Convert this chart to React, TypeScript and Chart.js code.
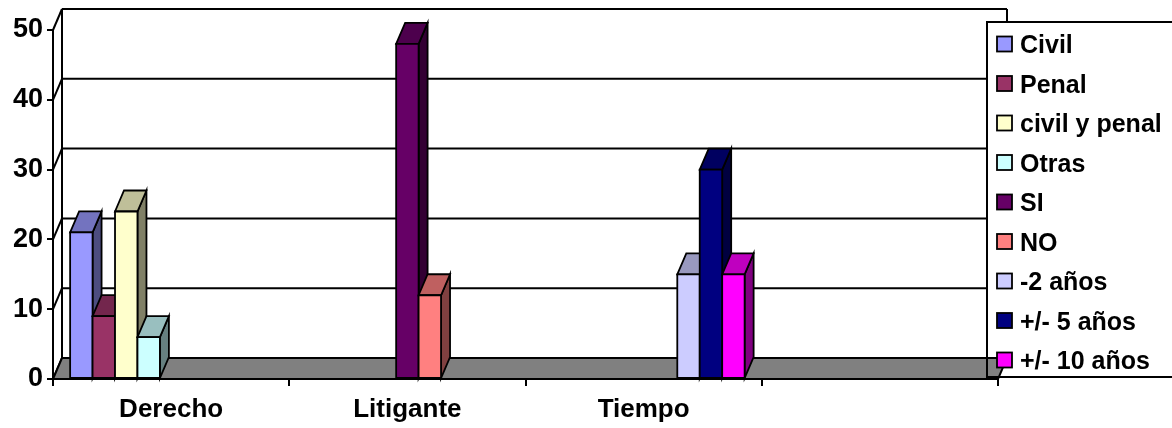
import { useEffect, useRef } from 'react';
import { Chart, registerables } from 'chart.js';

Chart.register(...registerables);

// Categories on the horizontal axis (the last one is an empty slot)
const categories = ['Derecho', 'Litigante', 'Tiempo', ''];

// Series names, in legend order
const seriesNames = [
  'Civil',
  'Penal',
  'civil y penal',
  'Otras',
  'SI',
  'NO',
  '-2 años',
  '+/- 5 años',
  '+/- 10 años',
];

// Values per series, one entry per category
const civil = [21, null, null, null];
const penal = [9, null, null, null];
const civilYPenal = [24, null, null, null];
const otras = [6, null, null, null];
const si = [null, 48, null, null];
const no = [null, 12, null, null];
const menosDos = [null, null, 15, null];
const masMenosCinco = [null, null, 30, null];
const masMenosDiez = [null, null, 15, null];

const seriesValues = [civil, penal, civilYPenal, otras, si, no, menosDos, masMenosCinco, masMenosDiez];

// Value axis ticks
const yTicks = [0, 10, 20, 30, 40, 50];

const seriesColors = [
  '#9999FF',
  '#993366',
  '#FFFFCC',
  '#CCFFFF',
  '#660066',
  '#FF8080',
  '#CCCCFF',
  '#000080',
  '#FF00FF',
];

const FONT_FAMILY = "'Liberation Sans', Arial, sans-serif";
const DEPTH_X = 9;
const DEPTH_Y = 21;

function shade(hex: string, k: number): string {
  const n = parseInt(hex.slice(1), 16);
  const r = Math.round(((n >> 16) & 255) * k);
  const g = Math.round(((n >> 8) & 255) * k);
  const b = Math.round((n & 255) * k);
  return `rgb(${r},${g},${b})`;
}

function drawFloor(chart: any) {
  const { ctx, chartArea } = chart;
  const { left, right, bottom } = chartArea;
  ctx.beginPath();
  ctx.moveTo(left, bottom);
  ctx.lineTo(right, bottom);
  ctx.lineTo(right + DEPTH_X, bottom - DEPTH_Y);
  ctx.lineTo(left + DEPTH_X, bottom - DEPTH_Y);
  ctx.closePath();
  ctx.fillStyle = '#808080';
  ctx.fill();
  ctx.strokeStyle = '#000';
  ctx.lineWidth = 2;
  ctx.stroke();
}

// Back wall, left wall and floor of the pseudo-3D box
const wallsPlugin = {
  id: 'walls3d',
  beforeDatasetsDraw(chart: any) {
    const { ctx, chartArea } = chart;
    const yScale = chart.scales.y;
    const left = chartArea.left;
    const right = chartArea.right;
    const bottom = chartArea.bottom;
    ctx.save();
    ctx.strokeStyle = '#000';
    ctx.lineWidth = 2;
    ctx.lineCap = 'butt';

    const topBack = yScale.getPixelForValue(yTicks[yTicks.length - 1]) - DEPTH_Y;
    const bottomBack = bottom - DEPTH_Y;

    // back-wall gridlines and left-wall diagonals
    yTicks.forEach((v) => {
      const yf = yScale.getPixelForValue(v);
      const yb = yf - DEPTH_Y;
      if (v !== 0) {
        ctx.beginPath();
        ctx.moveTo(left + DEPTH_X, yb);
        ctx.lineTo(right + DEPTH_X, yb);
        ctx.stroke();
      }
      ctx.beginPath();
      ctx.moveTo(left, yf);
      ctx.lineTo(left + DEPTH_X, yb);
      ctx.stroke();
    });

    // back-wall vertical edges
    ctx.beginPath();
    ctx.moveTo(left + DEPTH_X, topBack);
    ctx.lineTo(left + DEPTH_X, bottomBack);
    ctx.moveTo(right + DEPTH_X, topBack);
    ctx.lineTo(right + DEPTH_X, bottomBack);
    ctx.stroke();

    drawFloor(chart);
    ctx.restore();
  },
};

// Side and top faces of each bar, redrawn left to right so nearer faces cover farther ones
const barsPlugin = {
  id: 'bars3d',
  afterDatasetsDraw(chart: any) {
    const { ctx } = chart;
    ctx.save();
    ctx.strokeStyle = '#000';
    ctx.lineWidth = 1.8;
    ctx.lineJoin = 'miter';
    chart.data.datasets.forEach((ds: any, i: number) => {
      const meta = chart.getDatasetMeta(i);
      const base = seriesColors[i];
      meta.data.forEach((el: any, j: number) => {
        if (ds.data[j] == null) return;
        const { x, y, base: yBase, width } = el.getProps(['x', 'y', 'base', 'width'], true);
        const l = x - width / 2;
        const r = x + width / 2;
        // side face
        ctx.beginPath();
        ctx.moveTo(r, y);
        ctx.lineTo(r + DEPTH_X, y - DEPTH_Y);
        ctx.lineTo(r + DEPTH_X, yBase - DEPTH_Y);
        ctx.lineTo(r, yBase);
        ctx.closePath();
        ctx.fillStyle = shade(base, 0.5);
        ctx.fill();
        ctx.stroke();
        // top face
        ctx.beginPath();
        ctx.moveTo(l, y);
        ctx.lineTo(l + DEPTH_X, y - DEPTH_Y);
        ctx.lineTo(r + DEPTH_X, y - DEPTH_Y);
        ctx.lineTo(r, y);
        ctx.closePath();
        ctx.fillStyle = shade(base, 0.75);
        ctx.fill();
        ctx.stroke();
        // front face
        el.draw(ctx);
        ctx.beginPath();
        ctx.rect(l, y, width, yBase - y);
        ctx.stroke();
      });
    });
    ctx.restore();
  },
};

// Legend box on the right
const legendPlugin = {
  id: 'legendBox',
  afterDraw(chart: any) {
    const { ctx } = chart;
    const boxLeft = 987;
    const boxTop = 22;
    const boxBottom = 377;
    const boxW = 220;
    ctx.save();
    ctx.fillStyle = '#fff';
    ctx.fillRect(boxLeft, boxTop, boxW, boxBottom - boxTop);
    // the floor's corner shows through at the bottom-left of the box
    ctx.save();
    ctx.beginPath();
    ctx.rect(boxLeft, boxTop, boxW, boxBottom - boxTop);
    ctx.clip();
    drawFloor(chart);
    ctx.restore();
    ctx.strokeStyle = '#000';
    ctx.lineWidth = 2;
    ctx.strokeRect(boxLeft, boxTop, boxW, boxBottom - boxTop);
    ctx.font = `bold 25px ${FONT_FAMILY}`;
    ctx.textBaseline = 'alphabetic';
    ctx.textAlign = 'left';
    seriesNames.forEach((name, i) => {
      const cy = 44 + i * 39.5;
      ctx.fillStyle = seriesColors[i];
      ctx.fillRect(997, cy - 7.5, 15, 15);
      ctx.lineWidth = 1.8;
      ctx.strokeStyle = '#000';
      ctx.strokeRect(997, cy - 7.5, 15, 15);
      ctx.fillStyle = '#000';
      ctx.fillText(name, 1020, cy + 9);
    });
    ctx.restore();
  },
};

export default function App() {
  const canvasRef = useRef<HTMLCanvasElement | null>(null);

  useEffect(() => {
    if (!canvasRef.current) return;
    const chart = new Chart(canvasRef.current, {
      type: 'bar',
      data: {
        labels: categories,
        datasets: seriesNames.map((name, i) => ({
          label: name,
          data: seriesValues[i],
          backgroundColor: seriesColors[i],
          borderWidth: 0,
          categoryPercentage: 0.855,
          barPercentage: 1,
        })),
      },
      options: {
        responsive: true,
        maintainAspectRatio: false,
        animation: false,
        events: [],
        layout: { padding: { top: 30, right: 174, bottom: 0, left: 0 } },
        plugins: {
          legend: { display: false },
          tooltip: { enabled: false },
        },
        scales: {
          x: {
            grid: {
              offset: true,
              drawOnChartArea: false,
              tickLength: 7,
              color: '#000',
              lineWidth: 2,
            },
            border: { color: '#000', width: 2 },
            ticks: {
              font: { family: FONT_FAMILY, size: 26, weight: 'bold' },
              color: '#000',
              padding: 8,
              maxRotation: 0,
              autoSkip: false,
            },
            afterFit: (s: any) => {
              s.height = 49;
            },
          },
          y: {
            min: yTicks[0],
            max: yTicks[yTicks.length - 1],
            ticks: {
              stepSize: 10,
              font: { family: FONT_FAMILY, size: 27, weight: 'bold' },
              color: '#000',
              padding: 4,
            },
            grid: {
              drawOnChartArea: false,
              tickLength: 6,
              color: '#000',
              lineWidth: 2,
            },
            border: { color: '#000', width: 2 },
            afterFit: (s: any) => {
              s.width = 53;
            },
          },
        },
      },
      plugins: [wallsPlugin, barsPlugin, legendPlugin],
    });
    return () => chart.destroy();
  }, []);

  return (
    <div
      style={{
        position: 'fixed',
        left: 0,
        top: 0,
        width: 1172,
        height: 428,
        background: '#fff',
      }}
    >
      <canvas ref={canvasRef} />
    </div>
  );
}
